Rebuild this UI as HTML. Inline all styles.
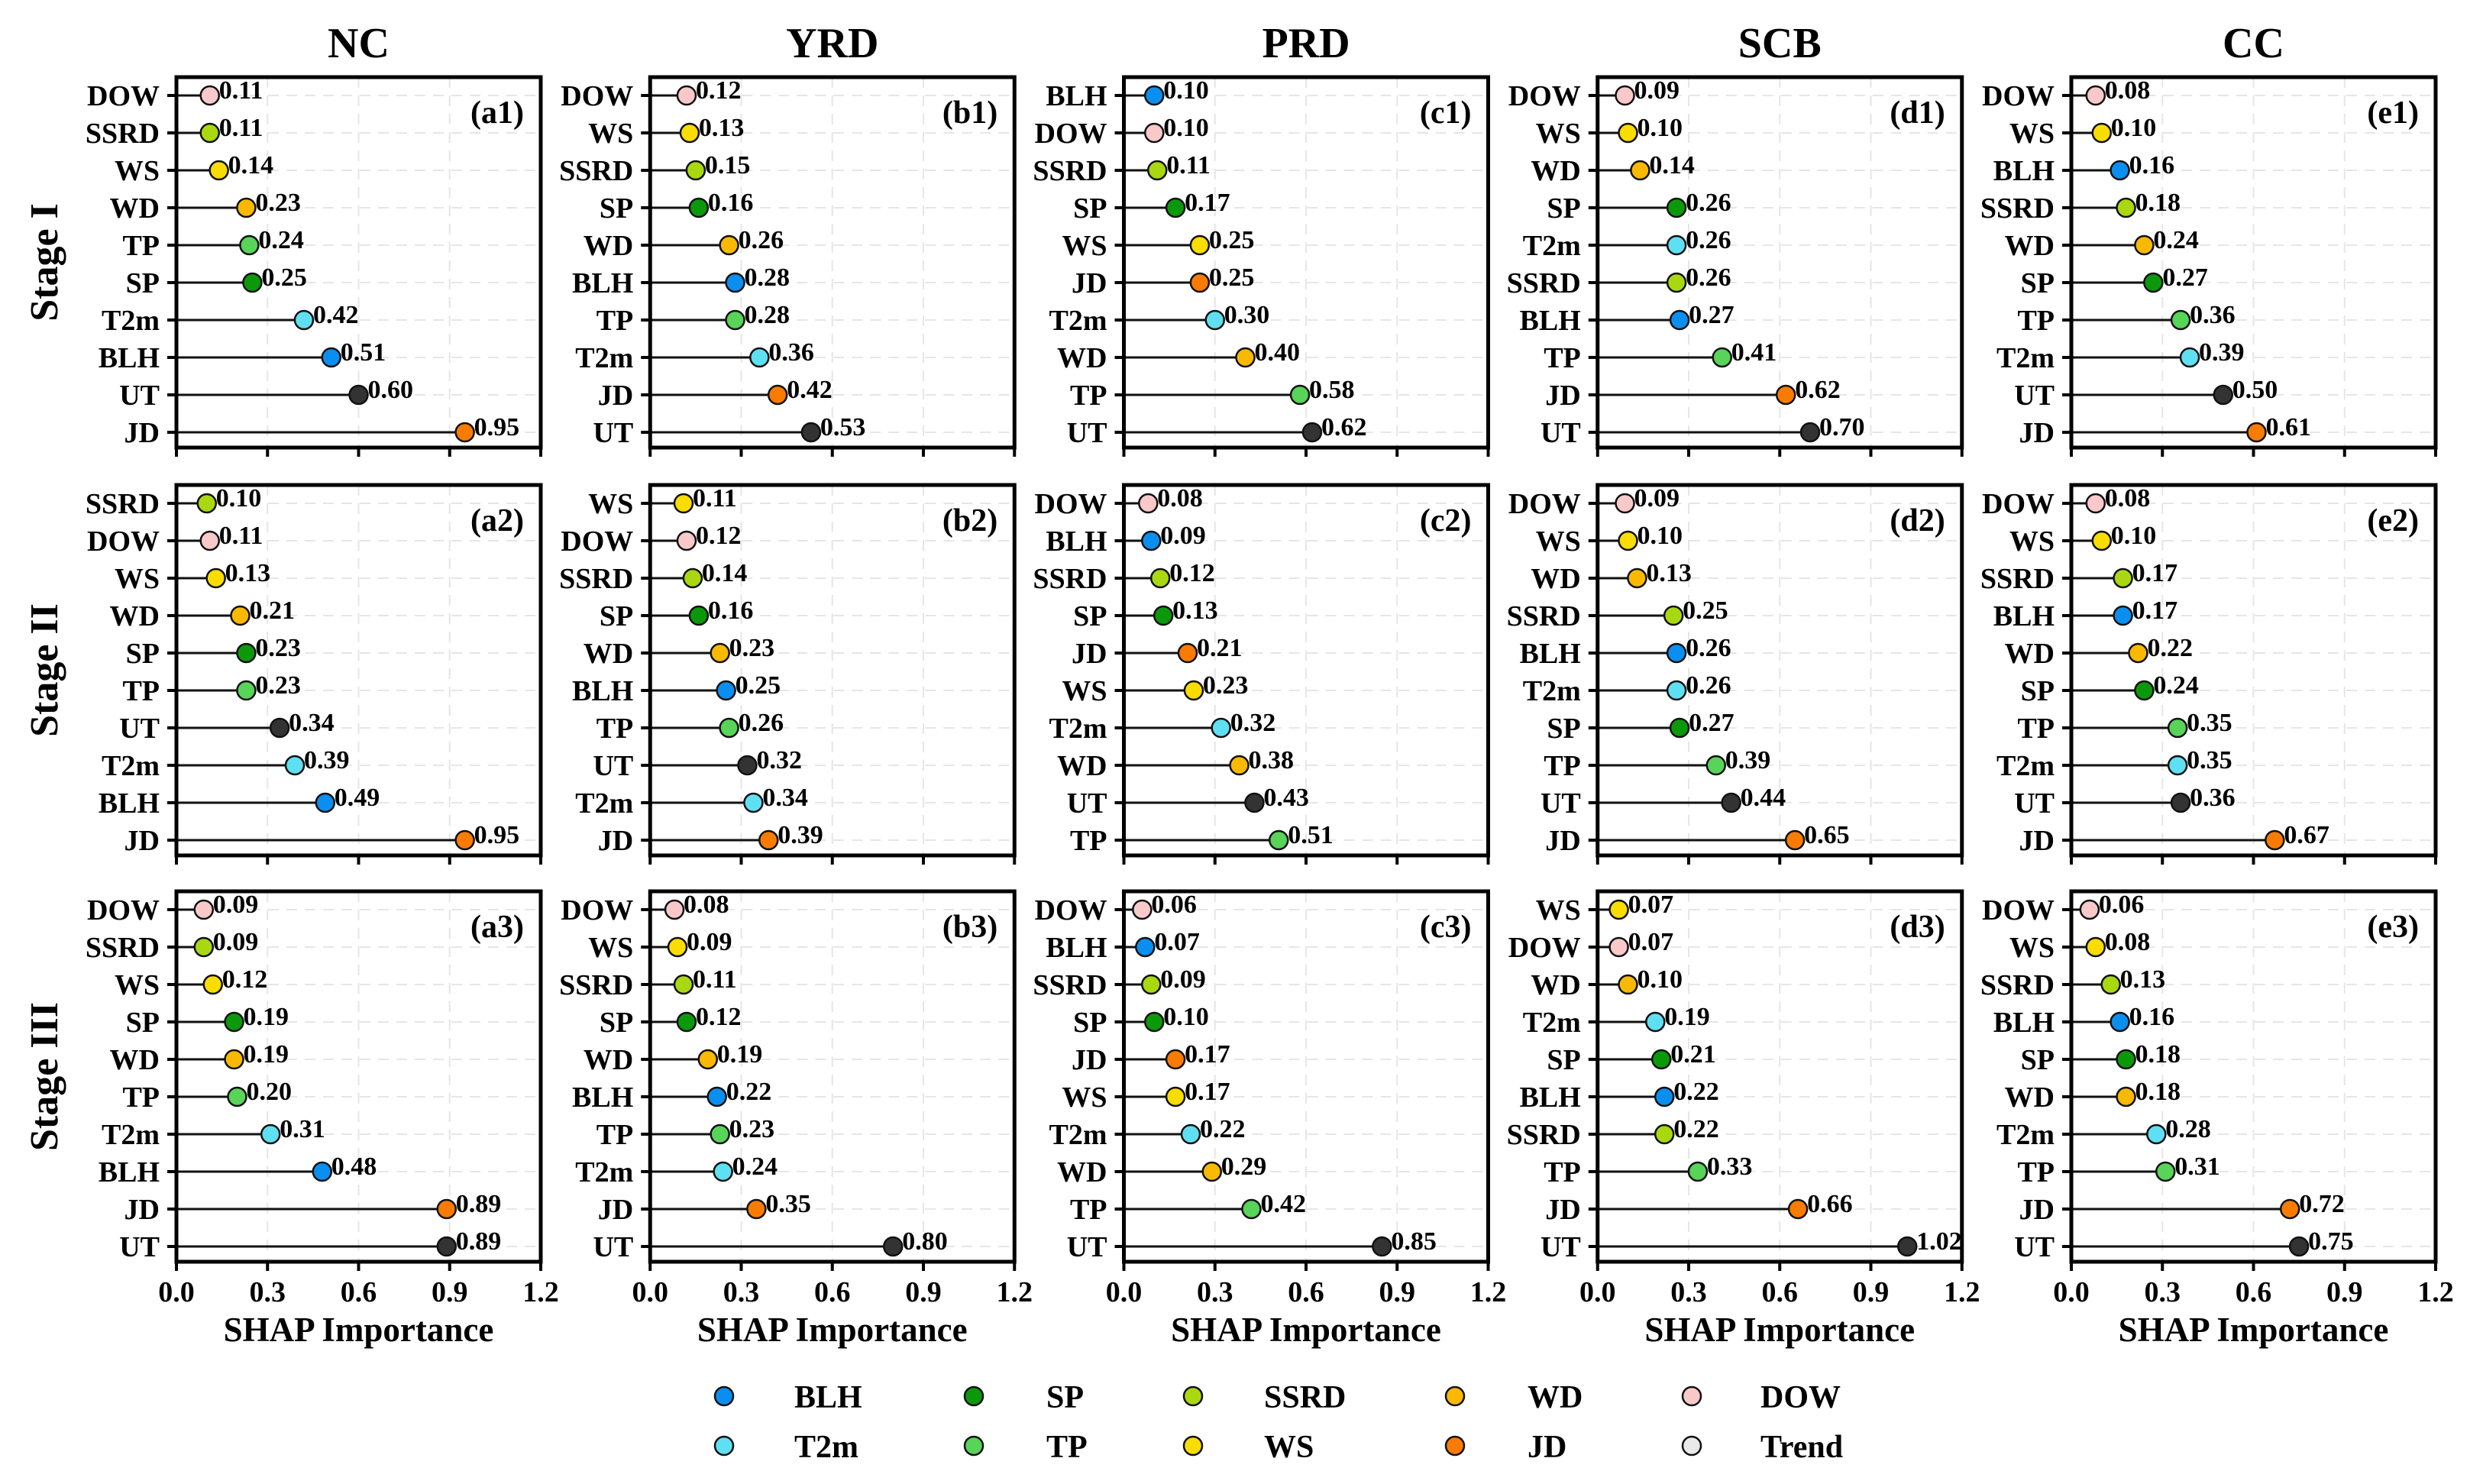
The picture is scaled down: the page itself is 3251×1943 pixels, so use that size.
<!DOCTYPE html>
<html><head><meta charset="utf-8">
<style>
html,body{margin:0;padding:0;background:#fff;}
svg{display:block;}
svg text{font-family:"Liberation Serif","Times New Roman",Times,serif;font-weight:bold;}
</style></head>
<body>
<svg id="chart" width="3251" height="1943" viewBox="0 0 3251 1943" xmlns="http://www.w3.org/2000/svg"></svg>
<script>
const regions = ["NC","YRD","PRD","SCB","CC"];
const stages = ["Stage I","Stage II","Stage III"];
const letters = ["a","b","c","d","e"];
const xTicks = [0,0.3,0.6,0.9,1.2];
const xTickLabels = ["0.0","0.3","0.6","0.9","1.2"];
const legendNames = ["BLH","SP","SSRD","WD","DOW","T2m","TP","WS","JD","Trend"];
const colors = {BLH:"#0a8ff0",T2m:"#5fe0f2",SP:"#0b990b",TP:"#58d458",SSRD:"#a9d811",WS:"#f9dc00",WD:"#f9b900",JD:"#f97c00",DOW:"#f9c9c9",Trend:"#e9e9e9",UT:"#333333"};
const feats = [
 [["DOW","SSRD","WS","WD","TP","SP","T2m","BLH","UT","JD"],
  ["DOW","WS","SSRD","SP","WD","BLH","TP","T2m","JD","UT"],
  ["BLH","DOW","SSRD","SP","WS","JD","T2m","WD","TP","UT"],
  ["DOW","WS","WD","SP","T2m","SSRD","BLH","TP","JD","UT"],
  ["DOW","WS","BLH","SSRD","WD","SP","TP","T2m","UT","JD"]],
 [["SSRD","DOW","WS","WD","SP","TP","UT","T2m","BLH","JD"],
  ["WS","DOW","SSRD","SP","WD","BLH","TP","UT","T2m","JD"],
  ["DOW","BLH","SSRD","SP","JD","WS","T2m","WD","UT","TP"],
  ["DOW","WS","WD","SSRD","BLH","T2m","SP","TP","UT","JD"],
  ["DOW","WS","SSRD","BLH","WD","SP","TP","T2m","UT","JD"]],
 [["DOW","SSRD","WS","SP","WD","TP","T2m","BLH","JD","UT"],
  ["DOW","WS","SSRD","SP","WD","BLH","TP","T2m","JD","UT"],
  ["DOW","BLH","SSRD","SP","JD","WS","T2m","WD","TP","UT"],
  ["WS","DOW","WD","T2m","SP","BLH","SSRD","TP","JD","UT"],
  ["DOW","WS","SSRD","BLH","SP","WD","T2m","TP","JD","UT"]]
];
const vals = [
 [[0.11,0.11,0.14,0.23,0.24,0.25,0.42,0.51,0.60,0.95],
  [0.12,0.13,0.15,0.16,0.26,0.28,0.28,0.36,0.42,0.53],
  [0.10,0.10,0.11,0.17,0.25,0.25,0.30,0.40,0.58,0.62],
  [0.09,0.10,0.14,0.26,0.26,0.26,0.27,0.41,0.62,0.70],
  [0.08,0.10,0.16,0.18,0.24,0.27,0.36,0.39,0.50,0.61]],
 [[0.10,0.11,0.13,0.21,0.23,0.23,0.34,0.39,0.49,0.95],
  [0.11,0.12,0.14,0.16,0.23,0.25,0.26,0.32,0.34,0.39],
  [0.08,0.09,0.12,0.13,0.21,0.23,0.32,0.38,0.43,0.51],
  [0.09,0.10,0.13,0.25,0.26,0.26,0.27,0.39,0.44,0.65],
  [0.08,0.10,0.17,0.17,0.22,0.24,0.35,0.35,0.36,0.67]],
 [[0.09,0.09,0.12,0.19,0.19,0.20,0.31,0.48,0.89,0.89],
  [0.08,0.09,0.11,0.12,0.19,0.22,0.23,0.24,0.35,0.80],
  [0.06,0.07,0.09,0.10,0.17,0.17,0.22,0.29,0.42,0.85],
  [0.07,0.07,0.10,0.19,0.21,0.22,0.22,0.33,0.66,1.02],
  [0.06,0.08,0.13,0.16,0.18,0.18,0.28,0.31,0.72,0.75]]
];

const svg = document.getElementById('chart');
const NS = "http://www.w3.org/2000/svg";
const FONT = "Liberation Serif, Times New Roman, serif";
function mk(tag, attrs, parent){
  const e = document.createElementNS(NS, tag);
  for (const k in attrs) e.setAttribute(k, attrs[k]);
  if (tag === 'text'){ e.setAttribute('font-family', FONT); e.setAttribute('font-weight','bold'); }
  (parent||svg).appendChild(e);
  return e;
}
const colX0 = 231, colStep = 620.25, panelW = 477;
const rowTops = [101, 635, 1167], panelH = 485;
const xMax = 1.2;
function xScale(c, v){ return colX0 + c*colStep + v/xMax*panelW; }
function yScale(s, i){ return rowTops[s] + 24 + i*49; }

regions.forEach((r,c)=>{
  const t = mk('text',{x:xScale(c,0.6),y:75,'text-anchor':'middle','font-size':56});
  t.textContent = r;
  
  
});
stages.forEach((st,s)=>{
  const cy = rowTops[s]+panelH/2;
  const t = mk('text',{x:0,y:0,transform:`translate(75,${cy}) rotate(-90)`,'text-anchor':'middle','font-size':52});
  t.textContent = st;
  
  
});

for (let s=0;s<3;s++){
  for (let c=0;c<5;c++){
    const g = mk('g',{});
    
    
    const L = xScale(c,0), R = xScale(c,xMax), T = rowTops[s], B = T+panelH;
    for (let k=1;k<xTicks.length-1;k++){
      const gx = xScale(c,xTicks[k]);
      mk('line',{x1:gx,x2:gx,y1:T,y2:B,stroke:'#e6e6e6','stroke-width':2,'stroke-dasharray':'14,10'},g);
    }
    feats[s][c].forEach((f,i)=>{
      const y = yScale(s,i);
      mk('line',{x1:L,x2:R,y1:y,y2:y,stroke:'#e6e6e6','stroke-width':2,'stroke-dasharray':'14,10'},g);
    });
    feats[s][c].forEach((f,i)=>{
      const v = vals[s][c][i];
      const y = yScale(s,i), x = xScale(c,v);
      const ln = mk('line',{x1:L,x2:x,y1:y,y2:y,stroke:'#111','stroke-width':3},g);
      
      
      const ci = mk('circle',{cx:x,cy:y,r:12,fill:colors[f],stroke:'#111','stroke-width':2.5},g);
      
      
      const tv = mk('text',{x:x+12,y:y+4,'font-size':34},g);
      tv.textContent = v.toFixed(2);
      
      
      const yl = mk('text',{x:L-22,y:y+13,'text-anchor':'end','font-size':38},g);
      yl.textContent = f;
      
      
      mk('line',{x1:L-12,x2:L,y1:y,y2:y,stroke:'#000','stroke-width':4},g);
    });
    xTicks.forEach((tv,k)=>{
      const tx = xScale(c,tv);
      mk('line',{x1:tx,x2:tx,y1:B,y2:B+12,stroke:'#000','stroke-width':4},g);
      if (s===2){
        const t = mk('text',{x:tx,y:B+52,'text-anchor':'middle','font-size':38},g);
        t.textContent = xTickLabels[k];
        
        
      }
    });
    const fr = mk('rect',{x:L,y:T,width:panelW,height:panelH,fill:'none',stroke:'#000','stroke-width':5},g);
    
    
    const pl = mk('text',{x:R-22,y:T+60,'text-anchor':'end','font-size':42},g);
    pl.textContent = '('+letters[c]+(s+1)+')';
    
    
    if (s===2){
      const xl = mk('text',{x:(L+R)/2,y:1756,'text-anchor':'middle','font-size':45},g);
      xl.textContent = 'SHAP Importance';
      
      
    }
  }
}
const legX = [948,1275,1562,1905,2215], legTX = [1040,1370,1655,2000,2305], legY = [1828,1893];
legendNames.forEach((n,i)=>{
  const col = i%5, row = Math.floor(i/5);
  const g = mk('g',{});
  
  
  mk('circle',{cx:legX[col],cy:legY[row],r:12,fill:colors[n],stroke:'#111','stroke-width':2.5},g);
  const t = mk('text',{x:legTX[col],y:legY[row]+15,'font-size':42},g);
  t.textContent = n;
});
</script>
</body></html>
